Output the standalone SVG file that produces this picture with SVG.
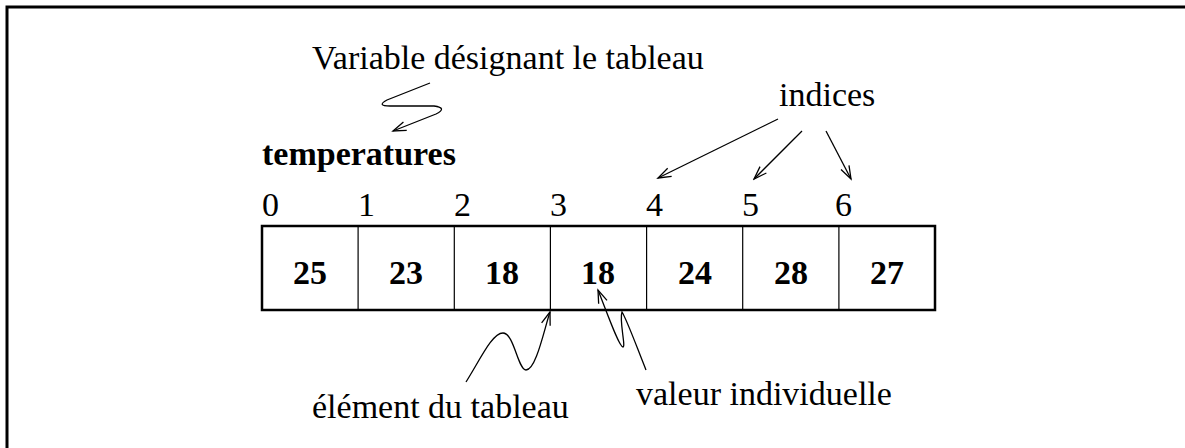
<svg xmlns="http://www.w3.org/2000/svg" width="1185" height="448" viewBox="0 0 1185 448">
  <style>
    .lbl { font-family: "Liberation Serif", "Times New Roman", serif; font-size: 34px; fill: #000; }
    .val { font-family: "Liberation Serif", "Times New Roman", serif; font-size: 34px; font-weight: bold; fill: #000; text-anchor: middle; }
    .name { font-family: "Liberation Serif", "Times New Roman", serif; font-size: 34px; font-weight: bold; fill: #000; }
    .cell { fill: none; stroke: #000; stroke-width: 1.2; }
    .wire { fill: none; stroke: #000; stroke-width: 1.3; marker-end: url(#tip); }
  </style>
  <defs>
    <marker id="tip" viewBox="-14 -6 16 12" refX="0" refY="0" markerWidth="16" markerHeight="12" markerUnits="userSpaceOnUse" orient="auto">
      <path d="M-13,-4.5 L0,0 L-13,4.5" fill="none" stroke="#000" stroke-width="1.3"/>
    </marker>
  </defs>

  <rect width="1185" height="448" fill="#fff"/>
  <!-- frame (open to the right and bottom) -->
  <path d="M7,448 V7 H1185" fill="none" stroke="#000" stroke-width="3"/>

  <!-- labels -->
  <g id="label-variable"><text class="lbl" x="312" y="69">Variable désignant le tableau</text></g>
  <g id="label-indices"><text class="lbl" x="779" y="106">indices</text></g>
  <g id="label-name"><text class="name" x="262" y="165">temperatures</text></g>
  <g id="label-element"><text class="lbl" x="312" y="418">élément du tableau</text></g>
  <g id="label-valeur"><text class="lbl" x="636" y="405">valeur individuelle</text></g>

  <!-- index numbers -->
  <g id="indices">
    <text class="lbl" x="262" y="216">0</text>
    <text class="lbl" x="358" y="216">1</text>
    <text class="lbl" x="454" y="216">2</text>
    <text class="lbl" x="550" y="216">3</text>
    <text class="lbl" x="646" y="216">4</text>
    <text class="lbl" x="742" y="216">5</text>
    <text class="lbl" x="835" y="216">6</text>
  </g>

  <!-- array cells -->
  <g id="array">
    <line class="cell" x1="358.1" y1="226" x2="358.1" y2="310"/>
    <line class="cell" x1="454.3" y1="226" x2="454.3" y2="310"/>
    <line class="cell" x1="550.4" y1="226" x2="550.4" y2="310"/>
    <line class="cell" x1="646.6" y1="226" x2="646.6" y2="310"/>
    <line class="cell" x1="742.7" y1="226" x2="742.7" y2="310"/>
    <line class="cell" x1="838.9" y1="226" x2="838.9" y2="310"/>
    <rect x="262" y="226" width="673" height="84" fill="none" stroke="#000" stroke-width="2.5"/>
    <text class="val" x="310" y="284">25</text>
    <text class="val" x="406" y="284">23</text>
    <text class="val" x="502" y="284">18</text>
    <text class="val" x="598" y="284">18</text>
    <text class="val" x="695" y="284">24</text>
    <text class="val" x="791" y="284">28</text>
    <text class="val" x="887" y="284">27</text>
  </g>

  <!-- pointers -->
  <g id="connectors">
    <path class="wire" d="M430,83 L387,100 Q376,106 390,106 L434,106 Q448,108 436,114 L393,131"/>
    <path class="wire" d="M778,119 L658,178"/>
    <path class="wire" d="M802,131 L754,179"/>
    <path class="wire" d="M826,131 L851,179"/>
    <path class="wire" d="M466,382 C480,360 492,333 503,333 C514,333 518,370 526,370 C536,370 544,330 550,312"/>
    <path class="wire" d="M646,370 C636,345 627,320 622,312 C619,320 626,347 623,347 C619,347 606,310 598,290"/>
  </g>
</svg>
